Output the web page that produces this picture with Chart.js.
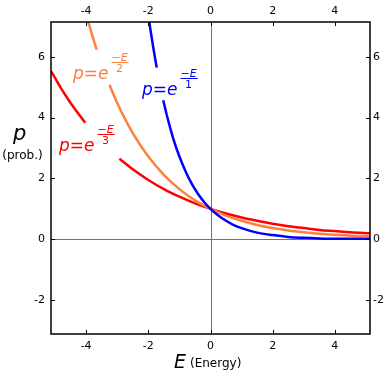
<!DOCTYPE html>
<html><head><meta charset="utf-8">
<script src="https://cdn.jsdelivr.net/npm/chart.js@4"></script>
<style>html,body{margin:0;padding:0;background:#fff}</style>
</head><body>
<canvas id="c" width="389" height="377" style="display:block;width:389px;height:377px"></canvas>
<script>
// ---- data ----
const xTicks = [-4, -2, 0, 2, 4];
const yTicks = [-2, 0, 2, 4, 6];
const xRange = [-5.13, 5.13];
const yRange = [-3.11, 7.14];

// p = e^(-E/1)  (blue), gap where the label sits
const blueE = [-1.97, -1.85, -1.73, -1.62, -1.52, -1.4, -1.2, -1.0, -0.8, -0.6, -0.4, -0.2, 0, 0.25, 0.5, 0.75, 1.0, 1.5, 2.0, 2.5, 3.0, 3.5, 4.0, 4.5, 5.13];
const blueP = [7.14, 6.36, 5.64, null, 4.57, 4.06, 3.32, 2.72, 2.23, 1.82, 1.49, 1.22, 1.0, 0.78, 0.61, 0.47, 0.37, 0.22, 0.14, 0.08, 0.05, 0.03, 0.02, 0.02, 0.02];
// p = e^(-E/2)  (orange)
const orangeE = [-3.93, -3.8, -3.66, -3.45, -3.25, -3.0, -2.5, -2.0, -1.5, -1.0, -0.5, 0, 0.5, 1.0, 1.5, 2.0, 2.5, 3.0, 3.5, 4.0, 4.5, 5.13];
const orangeP = [7.14, 6.69, 6.23, null, 5.08, 4.48, 3.49, 2.72, 2.12, 1.65, 1.28, 1.0, 0.78, 0.61, 0.47, 0.37, 0.29, 0.23, 0.18, 0.15, 0.12, 0.1];
// p = e^(-E/3)  (red)
const redE = [-5.13, -4.8, -4.5, -4.03, -3.5, -2.93, -2.5, -2.0, -1.5, -1.0, -0.5, 0, 0.5, 1.0, 1.5, 2.0, 2.5, 3.0, 3.5, 4.0, 4.5, 5.13];
const redP = [5.53, 4.95, 4.48, 3.83, null, 2.65, 2.30, 1.95, 1.65, 1.40, 1.18, 1.0, 0.85, 0.72, 0.61, 0.51, 0.43, 0.37, 0.31, 0.27, 0.23, 0.2];

const seriesNames = ['e^(-E/1)', 'e^(-E/2)', 'e^(-E/3)'];
const denoms = ['1', '2', '3'];

const BLUE = '#0000ff', ORANGE = '#ff7f3f', RED = '#ff0000', OLIVE = '#808000';
const FONT = '"DejaVu Sans", Verdana, sans-serif';

function pts(xs, ys) { return xs.map((x, i) => ({ x: x, y: ys[i] })); }

function fixTicks(arr) { return s => { s.ticks = arr.map(v => ({ value: v })); }; }

const tickFont = { family: FONT, size: 11 };

function axis(pos, range, ticksArr, size, pad) {
  const horiz = pos === 'top' || pos === 'bottom';
  return {
    type: 'linear', position: pos, min: range[0], max: range[1],
    afterBuildTicks: fixTicks(ticksArr),
    afterFit: s => { if (horiz) s.height = size; else s.width = size; },
    grid: { display: false, drawTicks: false },
    border: { display: false },
    ticks: { font: tickFont, color: '#000', padding: pad, callback: v => String(v), maxRotation: 0 }
  };
}

function drawFormula(ctx, x, base, denom, color) {
  ctx.save();
  ctx.fillStyle = color;
  ctx.textBaseline = 'alphabetic';
  ctx.textAlign = 'left';
  ctx.font = 'italic 17px ' + FONT;
  const main = 'p=e';
  ctx.fillText(main, x, base);
  const w = ctx.measureText(main).width;
  const fx = x + w + 3;
  ctx.font = 'italic 11px ' + FONT;
  const num = '\u2212E';
  const nw = ctx.measureText(num).width;
  ctx.fillText(num, fx, base - 18.5);
  ctx.fillRect(fx, base - 17, nw + 1, 1);
  ctx.textAlign = 'center';
  ctx.font = '11px ' + FONT;
  ctx.fillText(denom, fx + nw / 2, base - 7);
  ctx.restore();
}

const deco = {
  id: 'deco',
  beforeDatasetsDraw(chart) {
    const { ctx, chartArea: a, scales } = chart;
    ctx.save();
    ctx.strokeStyle = OLIVE; ctx.lineWidth = 1;
    const x0 = Math.round(scales.x.getPixelForValue(0)) + 0.5;
    const y0 = Math.round(scales.y.getPixelForValue(0)) + 0.5;
    ctx.beginPath();
    ctx.moveTo(a.left, y0); ctx.lineTo(a.right, y0);
    ctx.moveTo(x0, a.top); ctx.lineTo(x0, a.bottom);
    ctx.stroke();
    ctx.restore();
  },
  afterDatasetsDraw(chart) {
    const { ctx, chartArea: a, scales } = chart;
    ctx.save();
    ctx.strokeStyle = '#000'; ctx.lineWidth = 1.5;
    ctx.strokeRect(a.left, a.top, a.right - a.left, a.bottom - a.top);
    ctx.lineWidth = 1;
    ctx.beginPath();
    const L = 4;
    xTicks.forEach(v => {
      const px = Math.round(scales.x.getPixelForValue(v)) + 0.5;
      ctx.moveTo(px, a.bottom); ctx.lineTo(px, a.bottom - L);
      ctx.moveTo(px, a.top); ctx.lineTo(px, a.top + L);
    });
    yTicks.forEach(v => {
      const py = Math.round(scales.y.getPixelForValue(v)) + 0.5;
      ctx.moveTo(a.left, py); ctx.lineTo(a.left + L, py);
      ctx.moveTo(a.right, py); ctx.lineTo(a.right - L, py);
    });
    ctx.stroke();

    // formula labels
    drawFormula(ctx, 73, 79, denoms[1], ORANGE);
    drawFormula(ctx, 142, 95, denoms[0], BLUE);
    drawFormula(ctx, 59, 151, denoms[2], RED);

    // axis titles
    ctx.fillStyle = '#000';
    ctx.textBaseline = 'alphabetic';
    ctx.textAlign = 'left';
    ctx.font = 'italic 21px ' + FONT;
    ctx.fillText('p', 13, 140);
    ctx.font = '12px ' + FONT;
    ctx.textAlign = 'center';
    ctx.fillText('(prob.)', 22.5, 159);
    ctx.textAlign = 'left';
    ctx.font = 'italic 19px ' + FONT;
    ctx.fillText('E', 174, 368);
    ctx.font = '12px ' + FONT;
    ctx.fillText('(Energy)', 190, 367);
    ctx.restore();
  }
};

new Chart(document.getElementById('c'), {
  type: 'line',
  data: {
    datasets: [
      { label: seriesNames[0], data: pts(blueE, blueP), borderColor: BLUE },
      { label: seriesNames[1], data: pts(orangeE, orangeP), borderColor: ORANGE },
      { label: seriesNames[2], data: pts(redE, redP), borderColor: RED }
    ].map(d => Object.assign(d, { borderWidth: 2.5, pointRadius: 0, fill: false, spanGaps: false, cubicInterpolationMode: 'monotone' }))
  },
  options: {
    responsive: false, animation: false, devicePixelRatio: 1,
    layout: { padding: 0 },
    plugins: { legend: { display: false }, tooltip: { enabled: false } },
    scales: {
      x: axis('bottom', xRange, xTicks, 43, 6),
      x2: axis('top', xRange, xTicks, 22, 4),
      y: axis('left', yRange, yTicks, 51, 6),
      y2: axis('right', yRange, yTicks, 19, 3)
    }
  },
  plugins: [deco]
});
</script>
</body></html>
